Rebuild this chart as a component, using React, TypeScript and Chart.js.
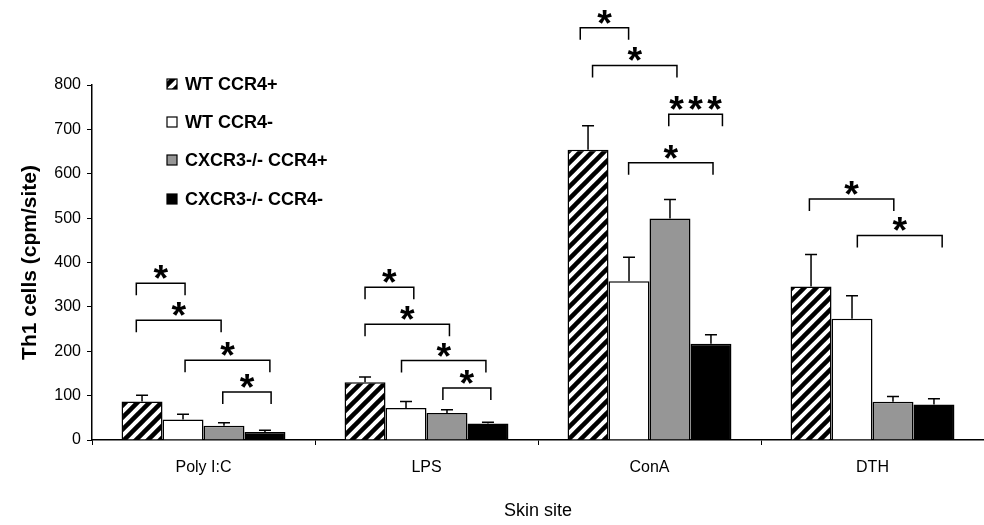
import React, { useEffect, useRef } from "react";
import { Chart, registerables } from "chart.js";

Chart.register(...registerables);

const categories = ["Poly I:C", "LPS", "ConA", "DTH"];
const seriesLabels = ["WT CCR4+", "WT CCR4-", "CXCR3-/- CCR4+", "CXCR3-/- CCR4-"];
const wtPos = [87, 130, 654, 346];
const wtPosErr = [14, 12, 54, 72];
const wtNeg = [46, 72, 358, 273];
const wtNegErr = [12, 15, 54, 52];
const koPos = [32, 61, 499, 86];
const koPosErr = [7, 7, 43, 12];
const koNeg = [18, 37, 217, 80];
const koNegErr = [4, 3, 20, 13];
const yTicks = [0, 100, 200, 300, 400, 500, 600, 700, 800];

// significance brackets: group index, from/to bar position (0 = centre of first bar), height in data units, number of stars
const bracketGroup = [0, 0, 0, 0, 1, 1, 1, 1, 2, 2, 2, 2, 3, 3];
const bracketFrom = [-0.14, -0.14, 1.05, 1.97, 0.0, 0.0, 0.89, 1.9, -0.19, 0.11, 1.97, 0.99, -0.04, 1.13];
const bracketTo = [1.05, 1.93, 3.12, 3.15, 1.19, 2.06, 2.95, 3.07, 0.99, 2.17, 3.28, 3.05, 2.02, 3.2];
const bracketY = [353, 270, 180, 108, 344, 261, 179, 117, 929, 844, 734, 625, 543, 461];
const bracketStars = [1, 1, 1, 1, 1, 1, 1, 1, 1, 1, 3, 1, 1, 1];

const FONT = "'Liberation Sans', Arial, sans-serif";

function makeHatch(): CanvasPattern | string {
  const c = document.createElement("canvas");
  c.width = 12;
  c.height = 12;
  const g = c.getContext("2d");
  if (!g) return "#000";
  g.fillStyle = "#fff";
  g.fillRect(0, 0, 12, 12);
  g.strokeStyle = "#000";
  g.lineWidth = 4.5;
  g.lineCap = "square";
  for (const k of [0, 12, 24]) {
    g.beginPath();
    g.moveTo(-2, k + 2);
    g.lineTo(k + 2, -2);
    g.stroke();
  }
  const p = g.createPattern(c, "repeat");
  return p || "#000";
}

export default function App() {
  const ref = useRef<HTMLCanvasElement | null>(null);

  useEffect(() => {
    if (!ref.current) return;
    const hatch = makeHatch();
    const fills: any[] = [hatch, "#ffffff", "#969696", "#000000"];
    const values = [wtPos, wtNeg, koPos, koNeg];
    const errs = [wtPosErr, wtNegErr, koPosErr, koNegErr];

    const errorBars = {
      id: "errorBars",
      afterDatasetsDraw(chart: any) {
        const ctx = chart.ctx;
        const y = chart.scales.y;
        ctx.save();
        ctx.strokeStyle = "#000";
        ctx.lineWidth = 1.5;
        chart.data.datasets.forEach((ds: any, di: number) => {
          const meta = chart.getDatasetMeta(di);
          meta.data.forEach((el: any, i: number) => {
            const top = y.getPixelForValue(ds.data[i] + ds.err[i]);
            ctx.beginPath();
            ctx.moveTo(el.x, el.y);
            ctx.lineTo(el.x, top);
            ctx.moveTo(el.x - 6, top);
            ctx.lineTo(el.x + 6, top);
            ctx.stroke();
          });
        });
        ctx.restore();
      },
    };

    const extras = {
      id: "extras",
      afterDraw(chart: any) {
        const ctx = chart.ctx;
        const y = chart.scales.y;
        const meta0 = chart.getDatasetMeta(0);
        ctx.save();
        // brackets
        ctx.strokeStyle = "#000";
        ctx.lineWidth = 1.5;
        ctx.fillStyle = "#000";
        ctx.font = `bold 40px ${FONT}`;
        const m = ctx.measureText("*");
        const w40 = m.actualBoundingBoxRight + m.actualBoundingBoxLeft;
        const fs = (40 * 15) / (w40 || 15);
        ctx.font = `bold ${fs}px ${FONT}`;
        const m2 = ctx.measureText("*");
        const starOffset = (m2.actualBoundingBoxDescent - m2.actualBoundingBoxAscent) / 2;
        ctx.textAlign = "center";
        ctx.textBaseline = "alphabetic";
        for (let b = 0; b < bracketGroup.length; b++) {
          const el = meta0.data[bracketGroup[b]];
          const bw = el.width;
          const left = el.x - bw / 2;
          const x1 = left + (bracketFrom[b] + 0.5) * bw;
          const x2 = left + (bracketTo[b] + 0.5) * bw;
          const py = y.getPixelForValue(bracketY[b]);
          ctx.beginPath();
          ctx.moveTo(x1, py + 12);
          ctx.lineTo(x1, py);
          ctx.lineTo(x2, py);
          ctx.lineTo(x2, py + 12);
          ctx.stroke();
          const cx = (x1 + x2) / 2;
          const n = bracketStars[b];
          for (let s = 0; s < n; s++) {
            const sx = cx + (s - (n - 1) / 2) * 19;
            ctx.fillText("*", sx, py - 11 - starOffset);
          }
        }
        // legend
        const rows = [84, 122, 160, 199];
        ctx.font = `bold 18px ${FONT}`;
        ctx.textAlign = "left";
        ctx.textBaseline = "middle";
        chart.data.datasets.forEach((ds: any, i: number) => {
          const ry = rows[i];
          ctx.fillStyle = ds.backgroundColor;
          ctx.fillRect(167, ry - 5, 10, 10);
          ctx.lineWidth = 1.2;
          ctx.strokeStyle = "#000";
          ctx.strokeRect(167, ry - 5, 10, 10);
          ctx.fillStyle = "#000";
          ctx.fillText(ds.label, 185, ry + 1);
        });
        ctx.restore();
      },
    };

    const chart = new Chart(ref.current, {
      type: "bar",
      data: {
        labels: categories,
        datasets: values.map((v, i) => ({
          label: seriesLabels[i],
          data: v,
          err: errs[i],
          backgroundColor: fills[i],
          borderColor: "#000",
          borderWidth: 1.5,
          categoryPercentage: 0.735,
          barPercentage: 1.0,
        })) as any,
      },
      options: {
        responsive: false,
        animation: false,
        layout: { padding: { top: 85, right: 0, left: 0, bottom: 0 } },
        plugins: { legend: { display: false }, tooltip: { enabled: false } },
        scales: {
          x: {
            grid: { display: true, drawOnChartArea: false, drawTicks: true, tickLength: 5, color: "#000", offset: true },
            border: { display: true, color: "#000", width: 1.5 },
            ticks: { color: "#000", font: { family: FONT, size: 16 }, padding: 13 },
            title: { display: true, text: "Skin site", color: "#000", font: { family: FONT, size: 18 }, padding: { top: 0, bottom: 3 } },
            afterFit(scale: any) {
              scale.height = 85;
            },
          },
          y: {
            min: 0,
            max: 800,
            afterBuildTicks(scale: any) {
              scale.ticks = yTicks.map((v) => ({ value: v }));
            },
            grid: { display: true, drawOnChartArea: false, drawTicks: true, tickLength: 5, color: "#000" },
            border: { display: true, color: "#000", width: 1.5 },
            ticks: { color: "#000", font: { family: FONT, size: 16 }, padding: 6 },
            title: { display: true, text: "Th1 cells (cpm/site)", color: "#000", font: { family: FONT, size: 21, weight: "bold" }, padding: { top: 18, bottom: 0 } },
            afterFit(scale: any) {
              scale.width = 92;
            },
          },
        },
      },
      plugins: [errorBars, extras],
    } as any);
    return () => chart.destroy();
  }, []);

  return (
    <div style={{ position: "absolute", left: 0, top: 0, width: 984, height: 525, background: "#fff" }}>
      <canvas ref={ref} width={984} height={525} style={{ display: "block" }} />
    </div>
  );
}
